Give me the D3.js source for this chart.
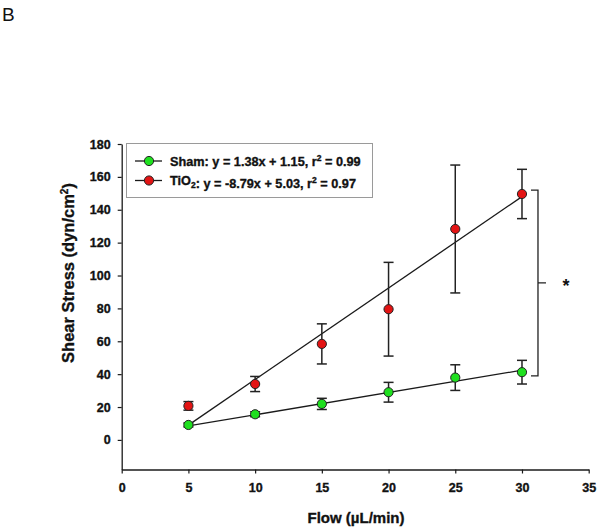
<!DOCTYPE html>
<html>
<head>
<meta charset="utf-8">
<script src="https://cdn.jsdelivr.net/npm/d3@7"></script>
<style>
  html, body { margin: 0; padding: 0; background: #fff; }
  svg { display: block; font-family: "Liberation Sans", Arial, sans-serif; }
  .heavy { stroke: #111; stroke-width: 0.35px; paint-order: stroke; }
</style>
</head>
<body>
<svg id="chart" width="601" height="527"></svg>
<script>
// ---- data ----
const flow = [5, 10, 15, 20, 25, 30];
const shamMean = [9.1, 15.6, 21.9, 29.0, 37.9, 41.2];
const shamErr  = [1.2, 1.5, 3.4, 6.0, 7.8, 7.2];
const tioMean  = [20.7, 34.0, 58.4, 79.5, 128.3, 149.6];
const tioErr   = [2.6, 4.6, 12.2, 28.5, 38.9, 15.0];
const shamFitX = [5, 30];
const shamFitY = [8.5, 42.4];
const tioFitX  = [5, 30];
const tioFitY  = [9.0, 148.0];
const xTicks = [0, 5, 10, 15, 20, 25, 30, 35];
const yTicks = [0, 20, 40, 60, 80, 100, 120, 140, 160, 180];
const legendLabels = ["Sham", "TiO2"];
const bracketRange = [39, 152];   // y-values spanned by significance bracket

const svg = d3.select("#chart");

const x = d3.scaleLinear().domain([0, 35]).range([121.7, 588.7]);
const y = d3.scaleLinear().domain([-18, 180]).range([469.5, 144]);

const ink = "#1a1a1a";

// Panel letter
svg.append("text").attr("x", 2).attr("y", 21)
  .attr("font-size", 19).attr("fill", "#111").text("B");

// Axes
const xAxis = d3.axisBottom(x).tickValues(xTicks).tickSize(4).tickSizeOuter(0).tickPadding(7);
const gx = svg.append("g").attr("transform", `translate(0,${y(-18)})`).call(xAxis);
const yAxis = d3.axisLeft(y).tickValues(yTicks).tickSize(4).tickSizeOuter(0).tickPadding(7);
const gy = svg.append("g").attr("transform", `translate(${x(0)},0)`).call(yAxis);
[gx, gy].forEach(g => {
  g.select(".domain").attr("stroke", ink).attr("stroke-width", 1.3);
  g.selectAll(".tick line").attr("stroke", ink).attr("stroke-width", 1.2);
  g.selectAll(".tick text").attr("font-size", 12.5).attr("font-weight", "bold")
    .attr("class", "heavy")
    .attr("fill", "#111").attr("font-family", "'Liberation Sans', Arial, sans-serif");
});
gx.selectAll(".tick text").attr("dy", "0.9em");

// Axis titles
svg.append("text").attr("x", 356).attr("y", 523).attr("class", "heavy")
  .attr("text-anchor", "middle").attr("font-size", 15).attr("font-weight", "bold").attr("fill", "#111")
  .text("Flow (µL/min)");
const yt = svg.append("text").attr("transform", "translate(74,273) rotate(-90)").attr("class", "heavy")
  .attr("text-anchor", "middle").attr("font-size", 16.5).attr("font-weight", "bold").attr("fill", "#111");
yt.append("tspan").text("Shear Stress (dyn/cm");
yt.append("tspan").attr("font-size", 10).attr("dy", -6).text("2");
yt.append("tspan").attr("dy", 6).text(")");

// Fit lines
const line = d3.line().x(d => x(d[0])).y(d => y(d[1]));
svg.append("path").datum(d3.zip(tioFitX, tioFitY)).attr("d", line)
  .attr("fill", "none").attr("stroke", ink).attr("stroke-width", 1.3);
svg.append("path").datum(d3.zip(shamFitX, shamFitY)).attr("d", line)
  .attr("fill", "none").attr("stroke", ink).attr("stroke-width", 1.3);

// Series
const series = [
  { mean: shamMean, err: shamErr, color: "#1fe01f" },
  { mean: tioMean,  err: tioErr,  color: "#e31414" }
];
series.forEach(s => {
  const g = svg.append("g");
  const pts = flow.map((f, i) => ({ f, m: s.mean[i], e: s.err[i] }));
  const eb = g.selectAll("g.eb").data(pts).enter().append("g").attr("class", "eb")
    .attr("stroke", "#222").attr("stroke-width", 1.5);
  eb.append("line").attr("x1", d => x(d.f)).attr("x2", d => x(d.f))
    .attr("y1", d => y(d.m - d.e)).attr("y2", d => y(d.m + d.e));
  eb.append("line").attr("x1", d => x(d.f) - 5).attr("x2", d => x(d.f) + 5)
    .attr("y1", d => y(d.m + d.e)).attr("y2", d => y(d.m + d.e));
  eb.append("line").attr("x1", d => x(d.f) - 5).attr("x2", d => x(d.f) + 5)
    .attr("y1", d => y(d.m - d.e)).attr("y2", d => y(d.m - d.e));
  g.selectAll("circle").data(pts).enter().append("circle")
    .attr("cx", d => x(d.f)).attr("cy", d => y(d.m)).attr("r", 4.6)
    .attr("fill", s.color).attr("stroke", "#222").attr("stroke-width", 1);
});

// Significance bracket
const bx = x(30) + 16;
const bTop = y(bracketRange[1]), bBot = y(bracketRange[0]), bMid = (bTop + bBot) / 2;
svg.append("path")
  .attr("d", `M${bx - 7},${bTop} H${bx} V${bBot} H${bx - 7} M${bx},${bMid} H${bx + 8}`)
  .attr("fill", "none").attr("stroke", "#222").attr("stroke-width", 1.3);
svg.append("text").attr("x", 566).attr("y", bMid + 9).attr("text-anchor", "middle")
  .attr("font-size", 18).attr("font-weight", "bold").attr("fill", "#111").text("*");

// Legend
const lg = svg.append("g");
lg.append("rect").attr("x", 126.5).attr("y", 143.5).attr("width", 246).attr("height", 54)
  .attr("fill", "#fff").attr("stroke", "#9a9a9a").attr("stroke-width", 1);
const legendRows = [
  { label: legendLabels[0], color: series[0].color, eq: ": y = 1.38x + 1.15, r", r2: " = 0.99", y: 161 },
  { label: legendLabels[1], color: series[1].color, eq: ": y = -8.79x + 5.03, r", r2: " = 0.97", y: 180.5 }
];
legendRows.forEach((r, i) => {
  lg.append("line").attr("x1", 135).attr("x2", 162).attr("y1", r.y).attr("y2", r.y)
    .attr("stroke", ink).attr("stroke-width", 1.3);
  lg.append("circle").attr("cx", 149).attr("cy", r.y).attr("r", 4.6)
    .attr("fill", r.color).attr("stroke", "#222").attr("stroke-width", 1);
  const t = lg.append("text").attr("x", 170).attr("y", r.y + 4.5).attr("class", "heavy")
    .attr("font-size", 12.7).attr("font-weight", "bold").attr("fill", "#111");
  if (i === 0) {
    t.append("tspan").text("Sham");
  } else {
    t.append("tspan").text("TiO");
    t.append("tspan").attr("font-size", 8.5).attr("dy", 3).text("2");
    t.append("tspan").attr("dy", -3).text("");
  }
  t.append("tspan").text(r.eq);
  t.append("tspan").attr("font-size", 8.5).attr("dy", -5).text("2");
  t.append("tspan").attr("dy", 5).text(r.r2);
});
</script>
</body>
</html>
